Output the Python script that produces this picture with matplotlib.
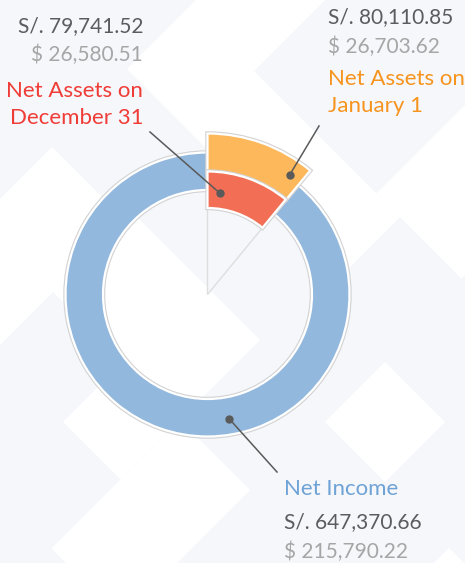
import matplotlib
matplotlib.use("Agg")
import matplotlib.pyplot as plt
from matplotlib.patches import Polygon
import numpy as np

# data
names = ["Net Assets on\nJanuary 1", "Net Assets on\nDecember 31", "Net Income"]
values_pen = [80110.85, 79741.52, 647370.66]
values_usd = [26703.62, 26580.51, 215790.22]
wedge_colors = ["#fdb85b", "#f26f55", "#93b8dd"]
label_colors = ["#f7941d", "#f03c37", "#6fa3d6"]

W, H = 465, 563
BG = "#f5f7fb"

plt.rcParams['font.family'] = ['Lato', 'DejaVu Sans']

fig = plt.figure(figsize=(W / 100, H / 100), dpi=100)
fig.patch.set_facecolor(BG)
ax = fig.add_axes([0, 0, 1, 1])
ax.set_facecolor(BG)


def py(y):
    # pixel row -> data y
    return H - y


# background pattern: white diamonds in rotated (u=x+y, v=x-y) space
white_cells = [
    (196, 325, 58, 340),
    (325, 617, 58, 183),
    (199, 345, -420, -95),
    (345, 600, -239, -80),
    (485, 600, -359, -239),
    (600, 740, -497, -240),
    (747, 867, -97, 23),
    (997, 1120, -230, -99),
    (570, 740, 183, 450),
]
for u0, u1, v0, v1 in white_cells:
    pts = [(u0, v0), (u0, v1), (u1, v1), (u1, v0)]
    xy = [((u + v) / 2, py((u - v) / 2)) for u, v in pts]
    ax.add_patch(Polygon(xy, closed=True, facecolor="white", edgecolor="none", zorder=0))

cx, cy = 207.5, py(294.5)
jan, dec, inc = values_pen


def ring(vals, radius, width, cols, hide, z):
    for ec, lw, zz in [("#d2d2d2", 3.2, z), ("white", 1.6, z + 0.1)]:
        wp = dict(edgecolor=ec, linewidth=lw)
        if width:
            wp["width"] = width
        wedges, _ = ax.pie(vals, radius=radius, center=(cx, cy), startangle=90,
                           counterclock=False, colors=cols, wedgeprops=wp)
        for i, w in enumerate(wedges):
            w.set_zorder(zz)
            if i == hide:
                w.set_visible(False)


# net income ring
ring([jan, inc], 142, 37.5, ["none", wedge_colors[2]], 0, 2)
# inner sector outline
wedges, _ = ax.pie([dec, inc], radius=86.5, center=(cx, cy), startangle=90, counterclock=False,
                   colors=[BG, "none"], wedgeprops=dict(edgecolor="#dedede", linewidth=1))
wedges[1].set_visible(False)
wedges[0].set_zorder(2)
# January 1 (outer) and December 31 (inner)
ring([jan, inc], 161, 38, [wedge_colors[0], "none"], 1, 3)
ring([dec, inc], 123, 36.5, [wedge_colors[1], "none"], 1, 4)

ax.set_xlim(0, W)
ax.set_ylim(0, H)
ax.set_aspect('auto')
ax.axis('off')

# connectors: (angle clockwise from top, radius) -> label end
connectors = [((34.5, 145), (319, 126)), ((7, 102), (150, 132)), ((170, 126.5), (277, 472))]
for (ang, r), (ex, ey) in connectors:
    a = np.deg2rad(ang)
    dx, dy = cx + r * np.sin(a), cy + r * np.cos(a)
    ax.plot([dx, ex], [dy, py(ey)], color="#5a5a5a", lw=1.1, zorder=6)
    ax.plot(dx, dy, "o", ms=5, color="#5a5a5a", zorder=7)

FS = 16
VFS = 15
DARK = "#5b5c5e"
LIGHT = "#a6a6a6"


def block(x, ha, y_pen, y_usd, pen, usd):
    ax.text(x, py(y_pen), f"S/. {pen:,.2f}", ha=ha, va="baseline", fontsize=VFS, color=DARK, zorder=8)
    ax.text(x, py(y_usd), f"$ {usd:,.2f}", ha=ha, va="baseline", fontsize=VFS, color=LIGHT, zorder=8)


# January 1 (top right)
block(328, "left", 23, 53, values_pen[0], values_usd[0])
for i, line in enumerate(names[0].split("\n")):
    ax.text(328, py(85 + 27 * i), line, ha="left", va="baseline", fontsize=FS, color=label_colors[0], zorder=8)

# December 31 (top left)
block(143, "right", 32, 61, values_pen[1], values_usd[1])
for i, line in enumerate(names[1].split("\n")):
    ax.text(143, py(97 + 27 * i), line, ha="right", va="baseline", fontsize=FS, color=label_colors[1], zorder=8)

# Net income (bottom)
ax.text(284, py(495), names[2], ha="left", va="baseline", fontsize=FS, color=label_colors[2], zorder=8)
block(284, "left", 528, 558, values_pen[2], values_usd[2])

fig.savefig("out.png", dpi=100, facecolor=BG)
